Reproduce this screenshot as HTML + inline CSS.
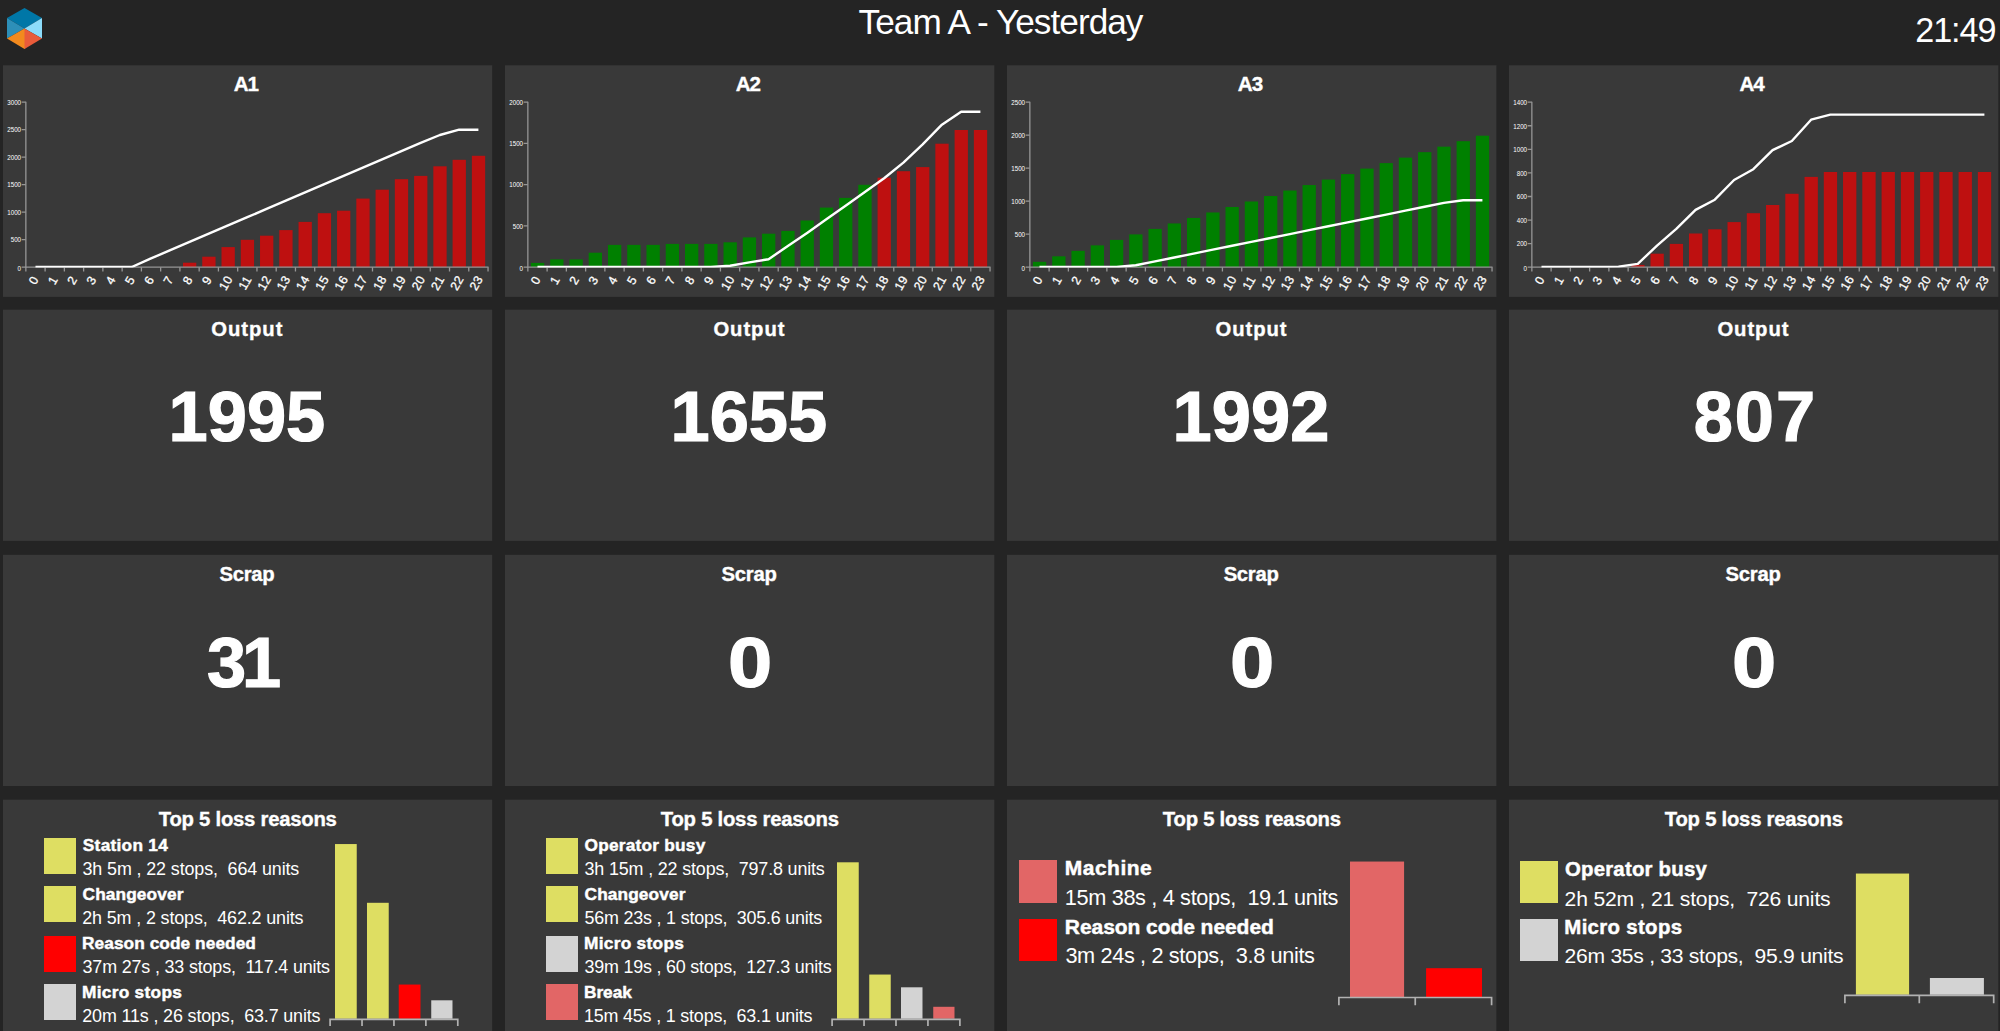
<!DOCTYPE html>
<html lang="en"><head><meta charset="utf-8"><title>Team A - Yesterday</title>
<style>
html,body{margin:0;padding:0}
body{width:2000px;height:1031px;overflow:hidden;background:#242424;position:relative;font-family:"Liberation Sans",Arial,sans-serif;color:#fff}
#bg,#hdr{position:absolute;left:0;top:0}
#hdr{width:2000px;height:65px}
.panel{position:absolute}
.t{position:absolute;white-space:pre;line-height:1;display:block}
.big{font-weight:700;-webkit-text-stroke:1.2px #fff}
.ttl{font-weight:700;-webkit-text-stroke:.35px #fff}
.lb{font-weight:700;-webkit-text-stroke:.45px #fff}
.chart{position:absolute;left:0;top:0;overflow:visible}
.sq{position:absolute}
svg text{font-family:"Liberation Sans",Arial,sans-serif;fill:#fff}
.yl text{font-size:6.9px;text-anchor:end}
.xl text{font-size:12.3px;text-anchor:middle;letter-spacing:.4px;stroke:#fff;stroke-width:.3px}
</style></head><body>

<svg id="bg" width="2000" height="1031" viewBox="0 0 2000 1031">
<rect x="3" y="65.3" width="489.2" height="231.6" fill="#393939"/>
<rect x="505" y="65.3" width="489.3" height="231.6" fill="#393939"/>
<rect x="1007" y="65.3" width="489.4" height="231.6" fill="#393939"/>
<rect x="1509" y="65.3" width="489.3" height="231.6" fill="#393939"/>
<rect x="3" y="309.7" width="489.2" height="231.2" fill="#393939"/>
<rect x="505" y="309.7" width="489.3" height="231.2" fill="#393939"/>
<rect x="1007" y="309.7" width="489.4" height="231.2" fill="#393939"/>
<rect x="1509" y="309.7" width="489.3" height="231.2" fill="#393939"/>
<rect x="3" y="554.8" width="489.2" height="231.2" fill="#393939"/>
<rect x="505" y="554.8" width="489.3" height="231.2" fill="#393939"/>
<rect x="1007" y="554.8" width="489.4" height="231.2" fill="#393939"/>
<rect x="1509" y="554.8" width="489.3" height="231.2" fill="#393939"/>
<rect x="3" y="799.7" width="489.2" height="231.8" fill="#393939"/>
<rect x="505" y="799.7" width="489.3" height="231.8" fill="#393939"/>
<rect x="1007" y="799.7" width="489.4" height="231.8" fill="#393939"/>
<rect x="1509" y="799.7" width="489.3" height="231.8" fill="#393939"/>
</svg>
<div id="hdr">
<svg class="chart" width="60" height="60" viewBox="0 0 60 60">
<polygon points="24.5,8 42,18 24.5,28.5 7,18" fill="#0077a7"/>
<polygon points="7,18 24.5,28.5 7,38.5" fill="#2d8fb8"/>
<polygon points="42,18 42,38.5 24.5,28.5" fill="#8cdcfa"/>
<polygon points="24.5,28.5 7,38.5 24.5,49 25.2,48.6 25.2,28.9" fill="#f28a1e"/>
<polygon points="24.5,28.5 24.5,49 42,38.5" fill="#e95b3a"/>
</svg>
<div class="t" id="title" style="left:858.55px;top:3.9px;font-size:35.2px;letter-spacing:-0.960px">Team A - Yesterday</div>
<div class="t" id="clock" style="left:1915.2px;top:13.1px;font-size:34.2px;letter-spacing:-1.049px">21:49</div>
</div>
<div class="panel" style="left:3px;top:65.3px;width:489.2px;height:231.6px">
<div class="t ttl" id="n0" style="left:230.68px;top:8.41px;font-size:20.6px;letter-spacing:-0.999px">A1</div>
<svg class="chart" width="489.2" height="231.6" viewBox="3 65.3 489.2 231.6">
<rect x="183" y="263" width="13.3" height="4.5" fill="#be1010"/>
<rect x="202.25" y="257" width="13.3" height="10.5" fill="#be1010"/>
<rect x="221.51" y="247.4" width="13.3" height="20.1" fill="#be1010"/>
<rect x="240.77" y="240.1" width="13.3" height="27.4" fill="#be1010"/>
<rect x="260.03" y="236" width="13.3" height="31.5" fill="#be1010"/>
<rect x="279.29" y="230.4" width="13.3" height="37.1" fill="#be1010"/>
<rect x="298.55" y="222.2" width="13.3" height="45.3" fill="#be1010"/>
<rect x="317.8" y="213.5" width="13.3" height="54" fill="#be1010"/>
<rect x="337.06" y="211" width="13.3" height="56.5" fill="#be1010"/>
<rect x="356.32" y="198.9" width="13.3" height="68.6" fill="#be1010"/>
<rect x="375.58" y="190" width="13.3" height="77.5" fill="#be1010"/>
<rect x="394.84" y="179.5" width="13.3" height="88" fill="#be1010"/>
<rect x="414.1" y="176.2" width="13.3" height="91.3" fill="#be1010"/>
<rect x="433.35" y="166.6" width="13.3" height="100.9" fill="#be1010"/>
<rect x="452.61" y="160.1" width="13.3" height="107.4" fill="#be1010"/>
<rect x="471.87" y="156.1" width="13.3" height="111.4" fill="#be1010"/>
<g stroke="#969696" stroke-width="1.3" fill="none">
<path d="M25.85 102V268"/>
<path d="M25.35 267.5H488.55"/>
<path d="M25.85 267.5v4.3M45.11 267.5v4.3M64.37 267.5v4.3M83.62 267.5v4.3M102.88 267.5v4.3M122.14 267.5v4.3M141.4 267.5v4.3M160.66 267.5v4.3M179.92 267.5v4.3M199.17 267.5v4.3M218.43 267.5v4.3M237.69 267.5v4.3M256.95 267.5v4.3M276.21 267.5v4.3M295.47 267.5v4.3M314.73 267.5v4.3M333.98 267.5v4.3M353.24 267.5v4.3M372.5 267.5v4.3M391.76 267.5v4.3M411.02 267.5v4.3M430.28 267.5v4.3M449.53 267.5v4.3M468.79 267.5v4.3M488.05 267.5v4.3"/>
<path d="M21.65 267.5h4.2M21.65 240h4.2M21.65 212.5h4.2M21.65 185h4.2M21.65 157.5h4.2M21.65 130h4.2M21.65 102.5h4.2"/>
</g>
<g class="yl">
<text x="21.05" y="270.9" textLength="3.45" lengthAdjust="spacingAndGlyphs">0</text>
<text x="21.05" y="242.75" textLength="10.35" lengthAdjust="spacingAndGlyphs">500</text>
<text x="21.05" y="215.25" textLength="13.8" lengthAdjust="spacingAndGlyphs">1000</text>
<text x="21.05" y="187.75" textLength="13.8" lengthAdjust="spacingAndGlyphs">1500</text>
<text x="21.05" y="160.25" textLength="13.8" lengthAdjust="spacingAndGlyphs">2000</text>
<text x="21.05" y="132.75" textLength="13.8" lengthAdjust="spacingAndGlyphs">2500</text>
<text x="21.05" y="105.25" textLength="13.8" lengthAdjust="spacingAndGlyphs">3000</text>
</g>
<g class="xl">
<text transform="translate(33.58 280.4) rotate(-60)" y="4.35">0</text>
<text transform="translate(52.84 280.4) rotate(-60)" y="4.35">1</text>
<text transform="translate(72.1 280.4) rotate(-60)" y="4.35">2</text>
<text transform="translate(91.35 280.4) rotate(-60)" y="4.35">3</text>
<text transform="translate(110.61 280.4) rotate(-60)" y="4.35">4</text>
<text transform="translate(129.87 280.4) rotate(-60)" y="4.35">5</text>
<text transform="translate(149.13 280.4) rotate(-60)" y="4.35">6</text>
<text transform="translate(168.39 280.4) rotate(-60)" y="4.35">7</text>
<text transform="translate(187.65 280.4) rotate(-60)" y="4.35">8</text>
<text transform="translate(206.9 280.4) rotate(-60)" y="4.35">9</text>
<text transform="translate(225.66 283.1) rotate(-60)" y="4.35">10</text>
<text transform="translate(244.92 283.1) rotate(-60)" y="4.35">11</text>
<text transform="translate(264.18 283.1) rotate(-60)" y="4.35">12</text>
<text transform="translate(283.44 283.1) rotate(-60)" y="4.35">13</text>
<text transform="translate(302.7 283.1) rotate(-60)" y="4.35">14</text>
<text transform="translate(321.95 283.1) rotate(-60)" y="4.35">15</text>
<text transform="translate(341.21 283.1) rotate(-60)" y="4.35">16</text>
<text transform="translate(360.47 283.1) rotate(-60)" y="4.35">17</text>
<text transform="translate(379.73 283.1) rotate(-60)" y="4.35">18</text>
<text transform="translate(398.99 283.1) rotate(-60)" y="4.35">19</text>
<text transform="translate(418.25 283.1) rotate(-60)" y="4.35">20</text>
<text transform="translate(437.5 283.1) rotate(-60)" y="4.35">21</text>
<text transform="translate(456.76 283.1) rotate(-60)" y="4.35">22</text>
<text transform="translate(476.02 283.1) rotate(-60)" y="4.35">23</text>
</g>
<clipPath id="cp0"><rect x="3" y="65.3" width="489.2" height="202.6"/></clipPath>
<polyline clip-path="url(#cp0)" points="35.48,267.3 54.74,267.3 74,267.3 93.25,267.3 112.51,267.3 131.77,267.3 151.03,258.75 170.29,250.5 189.55,242.25 208.8,234 228.06,225.75 247.32,217.5 266.58,209.25 285.84,201 305.1,192.75 324.35,184.5 343.61,176.25 362.87,168 382.13,159.75 401.39,151.5 420.65,143.25 439.9,135.3 459.16,130 478.42,130" fill="none" stroke="#fff" stroke-width="2.4" stroke-linejoin="round"/>
</svg>
</div>
<div class="panel" style="left:505px;top:65.3px;width:489.3px;height:231.6px">
<div class="t ttl" id="n1" style="left:230.73px;top:8.41px;font-size:20.6px;letter-spacing:-0.999px">A2</div>
<svg class="chart" width="489.3" height="231.6" viewBox="505 65.3 489.3 231.6">
<rect x="530.93" y="263.2" width="13.3" height="4.3" fill="#008000"/>
<rect x="550.19" y="259.7" width="13.3" height="7.8" fill="#008000"/>
<rect x="569.45" y="259.7" width="13.3" height="7.8" fill="#008000"/>
<rect x="588.7" y="253" width="13.3" height="14.5" fill="#008000"/>
<rect x="607.96" y="245.2" width="13.3" height="22.3" fill="#008000"/>
<rect x="627.22" y="245.2" width="13.3" height="22.3" fill="#008000"/>
<rect x="646.48" y="245.2" width="13.3" height="22.3" fill="#008000"/>
<rect x="665.74" y="244.2" width="13.3" height="23.3" fill="#008000"/>
<rect x="685" y="244.2" width="13.3" height="23.3" fill="#008000"/>
<rect x="704.25" y="244.2" width="13.3" height="23.3" fill="#008000"/>
<rect x="723.51" y="242.6" width="13.3" height="24.9" fill="#008000"/>
<rect x="742.77" y="237.7" width="13.3" height="29.8" fill="#008000"/>
<rect x="762.03" y="234" width="13.3" height="33.5" fill="#008000"/>
<rect x="781.29" y="231.2" width="13.3" height="36.3" fill="#008000"/>
<rect x="800.55" y="220.8" width="13.3" height="46.7" fill="#008000"/>
<rect x="819.8" y="207.9" width="13.3" height="59.6" fill="#008000"/>
<rect x="839.06" y="198.2" width="13.3" height="69.3" fill="#008000"/>
<rect x="858.32" y="185.1" width="13.3" height="82.4" fill="#008000"/>
<rect x="877.58" y="178" width="13.3" height="89.5" fill="#be1010"/>
<rect x="896.84" y="171.5" width="13.3" height="96" fill="#be1010"/>
<rect x="916.1" y="167.4" width="13.3" height="100.1" fill="#be1010"/>
<rect x="935.35" y="144" width="13.3" height="123.5" fill="#be1010"/>
<rect x="954.61" y="130.3" width="13.3" height="137.2" fill="#be1010"/>
<rect x="973.87" y="130.3" width="13.3" height="137.2" fill="#be1010"/>
<g stroke="#969696" stroke-width="1.3" fill="none">
<path d="M527.85 102V268"/>
<path d="M527.35 267.5H990.55"/>
<path d="M527.85 267.5v4.3M547.11 267.5v4.3M566.37 267.5v4.3M585.62 267.5v4.3M604.88 267.5v4.3M624.14 267.5v4.3M643.4 267.5v4.3M662.66 267.5v4.3M681.92 267.5v4.3M701.17 267.5v4.3M720.43 267.5v4.3M739.69 267.5v4.3M758.95 267.5v4.3M778.21 267.5v4.3M797.47 267.5v4.3M816.73 267.5v4.3M835.98 267.5v4.3M855.24 267.5v4.3M874.5 267.5v4.3M893.76 267.5v4.3M913.02 267.5v4.3M932.28 267.5v4.3M951.53 267.5v4.3M970.79 267.5v4.3M990.05 267.5v4.3"/>
<path d="M523.65 267.5h4.2M523.65 226.25h4.2M523.65 185h4.2M523.65 143.75h4.2M523.65 102.5h4.2"/>
</g>
<g class="yl">
<text x="523.05" y="270.9" textLength="3.45" lengthAdjust="spacingAndGlyphs">0</text>
<text x="523.05" y="229" textLength="10.35" lengthAdjust="spacingAndGlyphs">500</text>
<text x="523.05" y="187.75" textLength="13.8" lengthAdjust="spacingAndGlyphs">1000</text>
<text x="523.05" y="146.5" textLength="13.8" lengthAdjust="spacingAndGlyphs">1500</text>
<text x="523.05" y="105.25" textLength="13.8" lengthAdjust="spacingAndGlyphs">2000</text>
</g>
<g class="xl">
<text transform="translate(535.58 280.4) rotate(-60)" y="4.35">0</text>
<text transform="translate(554.84 280.4) rotate(-60)" y="4.35">1</text>
<text transform="translate(574.1 280.4) rotate(-60)" y="4.35">2</text>
<text transform="translate(593.35 280.4) rotate(-60)" y="4.35">3</text>
<text transform="translate(612.61 280.4) rotate(-60)" y="4.35">4</text>
<text transform="translate(631.87 280.4) rotate(-60)" y="4.35">5</text>
<text transform="translate(651.13 280.4) rotate(-60)" y="4.35">6</text>
<text transform="translate(670.39 280.4) rotate(-60)" y="4.35">7</text>
<text transform="translate(689.65 280.4) rotate(-60)" y="4.35">8</text>
<text transform="translate(708.9 280.4) rotate(-60)" y="4.35">9</text>
<text transform="translate(727.66 283.1) rotate(-60)" y="4.35">10</text>
<text transform="translate(746.92 283.1) rotate(-60)" y="4.35">11</text>
<text transform="translate(766.18 283.1) rotate(-60)" y="4.35">12</text>
<text transform="translate(785.44 283.1) rotate(-60)" y="4.35">13</text>
<text transform="translate(804.7 283.1) rotate(-60)" y="4.35">14</text>
<text transform="translate(823.95 283.1) rotate(-60)" y="4.35">15</text>
<text transform="translate(843.21 283.1) rotate(-60)" y="4.35">16</text>
<text transform="translate(862.47 283.1) rotate(-60)" y="4.35">17</text>
<text transform="translate(881.73 283.1) rotate(-60)" y="4.35">18</text>
<text transform="translate(900.99 283.1) rotate(-60)" y="4.35">19</text>
<text transform="translate(920.25 283.1) rotate(-60)" y="4.35">20</text>
<text transform="translate(939.5 283.1) rotate(-60)" y="4.35">21</text>
<text transform="translate(958.76 283.1) rotate(-60)" y="4.35">22</text>
<text transform="translate(978.02 283.1) rotate(-60)" y="4.35">23</text>
</g>
<clipPath id="cp1"><rect x="505" y="65.3" width="489.3" height="202.6"/></clipPath>
<polyline clip-path="url(#cp1)" points="537.48,267.3 556.74,267.3 576,267.3 595.25,267.3 614.51,267.3 633.77,267.3 653.03,267.3 672.29,267.3 691.55,267.3 710.8,267.3 730.06,266 749.32,262.7 768.58,259.5 787.84,246.4 807.1,233.2 826.35,219.5 845.61,206.1 864.87,192.4 884.13,178.6 903.39,162.9 922.65,144.6 941.9,125 961.16,112 980.42,112" fill="none" stroke="#fff" stroke-width="2.4" stroke-linejoin="round"/>
</svg>
</div>
<div class="panel" style="left:1007px;top:65.3px;width:489.4px;height:231.6px">
<div class="t ttl" id="n2" style="left:230.78px;top:8.41px;font-size:20.6px;letter-spacing:-0.999px">A3</div>
<svg class="chart" width="489.4" height="231.6" viewBox="1007 65.3 489.4 231.6">
<rect x="1032.93" y="262.12" width="13.3" height="5.38" fill="#008000"/>
<rect x="1052.19" y="256.63" width="13.3" height="10.87" fill="#008000"/>
<rect x="1071.45" y="251.15" width="13.3" height="16.35" fill="#008000"/>
<rect x="1090.7" y="245.67" width="13.3" height="21.83" fill="#008000"/>
<rect x="1109.96" y="240.19" width="13.3" height="27.31" fill="#008000"/>
<rect x="1129.22" y="234.7" width="13.3" height="32.8" fill="#008000"/>
<rect x="1148.48" y="229.22" width="13.3" height="38.28" fill="#008000"/>
<rect x="1167.74" y="223.74" width="13.3" height="43.76" fill="#008000"/>
<rect x="1187" y="218.25" width="13.3" height="49.25" fill="#008000"/>
<rect x="1206.25" y="212.77" width="13.3" height="54.73" fill="#008000"/>
<rect x="1225.51" y="207.29" width="13.3" height="60.21" fill="#008000"/>
<rect x="1244.77" y="201.8" width="13.3" height="65.7" fill="#008000"/>
<rect x="1264.03" y="196.32" width="13.3" height="71.18" fill="#008000"/>
<rect x="1283.29" y="190.84" width="13.3" height="76.66" fill="#008000"/>
<rect x="1302.55" y="185.36" width="13.3" height="82.14" fill="#008000"/>
<rect x="1321.8" y="179.87" width="13.3" height="87.63" fill="#008000"/>
<rect x="1341.06" y="174.39" width="13.3" height="93.11" fill="#008000"/>
<rect x="1360.32" y="168.91" width="13.3" height="98.59" fill="#008000"/>
<rect x="1379.58" y="163.42" width="13.3" height="104.08" fill="#008000"/>
<rect x="1398.84" y="157.94" width="13.3" height="109.56" fill="#008000"/>
<rect x="1418.1" y="152.46" width="13.3" height="115.04" fill="#008000"/>
<rect x="1437.35" y="146.97" width="13.3" height="120.53" fill="#008000"/>
<rect x="1456.61" y="141.49" width="13.3" height="126.01" fill="#008000"/>
<rect x="1475.87" y="136.01" width="13.3" height="131.49" fill="#008000"/>
<g stroke="#969696" stroke-width="1.3" fill="none">
<path d="M1029.85 102V268"/>
<path d="M1029.35 267.5H1492.55"/>
<path d="M1029.85 267.5v4.3M1049.11 267.5v4.3M1068.37 267.5v4.3M1087.62 267.5v4.3M1106.88 267.5v4.3M1126.14 267.5v4.3M1145.4 267.5v4.3M1164.66 267.5v4.3M1183.92 267.5v4.3M1203.17 267.5v4.3M1222.43 267.5v4.3M1241.69 267.5v4.3M1260.95 267.5v4.3M1280.21 267.5v4.3M1299.47 267.5v4.3M1318.72 267.5v4.3M1337.98 267.5v4.3M1357.24 267.5v4.3M1376.5 267.5v4.3M1395.76 267.5v4.3M1415.02 267.5v4.3M1434.27 267.5v4.3M1453.53 267.5v4.3M1472.79 267.5v4.3M1492.05 267.5v4.3"/>
<path d="M1025.65 267.5h4.2M1025.65 234.5h4.2M1025.65 201.5h4.2M1025.65 168.5h4.2M1025.65 135.5h4.2M1025.65 102.5h4.2"/>
</g>
<g class="yl">
<text x="1025.05" y="270.9" textLength="3.45" lengthAdjust="spacingAndGlyphs">0</text>
<text x="1025.05" y="237.25" textLength="10.35" lengthAdjust="spacingAndGlyphs">500</text>
<text x="1025.05" y="204.25" textLength="13.8" lengthAdjust="spacingAndGlyphs">1000</text>
<text x="1025.05" y="171.25" textLength="13.8" lengthAdjust="spacingAndGlyphs">1500</text>
<text x="1025.05" y="138.25" textLength="13.8" lengthAdjust="spacingAndGlyphs">2000</text>
<text x="1025.05" y="105.25" textLength="13.8" lengthAdjust="spacingAndGlyphs">2500</text>
</g>
<g class="xl">
<text transform="translate(1037.58 280.4) rotate(-60)" y="4.35">0</text>
<text transform="translate(1056.84 280.4) rotate(-60)" y="4.35">1</text>
<text transform="translate(1076.1 280.4) rotate(-60)" y="4.35">2</text>
<text transform="translate(1095.35 280.4) rotate(-60)" y="4.35">3</text>
<text transform="translate(1114.61 280.4) rotate(-60)" y="4.35">4</text>
<text transform="translate(1133.87 280.4) rotate(-60)" y="4.35">5</text>
<text transform="translate(1153.13 280.4) rotate(-60)" y="4.35">6</text>
<text transform="translate(1172.39 280.4) rotate(-60)" y="4.35">7</text>
<text transform="translate(1191.65 280.4) rotate(-60)" y="4.35">8</text>
<text transform="translate(1210.9 280.4) rotate(-60)" y="4.35">9</text>
<text transform="translate(1229.66 283.1) rotate(-60)" y="4.35">10</text>
<text transform="translate(1248.92 283.1) rotate(-60)" y="4.35">11</text>
<text transform="translate(1268.18 283.1) rotate(-60)" y="4.35">12</text>
<text transform="translate(1287.44 283.1) rotate(-60)" y="4.35">13</text>
<text transform="translate(1306.7 283.1) rotate(-60)" y="4.35">14</text>
<text transform="translate(1325.95 283.1) rotate(-60)" y="4.35">15</text>
<text transform="translate(1345.21 283.1) rotate(-60)" y="4.35">16</text>
<text transform="translate(1364.47 283.1) rotate(-60)" y="4.35">17</text>
<text transform="translate(1383.73 283.1) rotate(-60)" y="4.35">18</text>
<text transform="translate(1402.99 283.1) rotate(-60)" y="4.35">19</text>
<text transform="translate(1422.25 283.1) rotate(-60)" y="4.35">20</text>
<text transform="translate(1441.5 283.1) rotate(-60)" y="4.35">21</text>
<text transform="translate(1460.76 283.1) rotate(-60)" y="4.35">22</text>
<text transform="translate(1480.02 283.1) rotate(-60)" y="4.35">23</text>
</g>
<clipPath id="cp2"><rect x="1007" y="65.3" width="489.4" height="202.6"/></clipPath>
<polyline clip-path="url(#cp2)" points="1039.48,267.3 1058.74,267.3 1078,267.3 1097.25,267.3 1116.51,267.3 1135.77,265.6 1155.03,261.7 1174.29,257.8 1193.55,253.9 1212.8,250 1232.06,246.1 1251.32,242.2 1270.58,238.3 1289.84,234.4 1309.1,230.5 1328.35,226.6 1347.61,222.7 1366.87,218.8 1386.13,214.9 1405.39,211 1424.65,207.1 1443.9,203.2 1463.16,200.6 1482.42,200.6" fill="none" stroke="#fff" stroke-width="2.4" stroke-linejoin="round"/>
</svg>
</div>
<div class="panel" style="left:1509px;top:65.3px;width:489.3px;height:231.6px">
<div class="t ttl" id="n3" style="left:230.41px;top:8.41px;font-size:20.6px;letter-spacing:-0.999px">A4</div>
<svg class="chart" width="489.3" height="231.6" viewBox="1509 65.3 489.3 231.6">
<rect x="1631.22" y="265.2" width="13.3" height="2.3" fill="#be1010"/>
<rect x="1650.48" y="254" width="13.3" height="13.5" fill="#be1010"/>
<rect x="1669.74" y="244.2" width="13.3" height="23.3" fill="#be1010"/>
<rect x="1689" y="233.8" width="13.3" height="33.7" fill="#be1010"/>
<rect x="1708.25" y="229.6" width="13.3" height="37.9" fill="#be1010"/>
<rect x="1727.51" y="222.4" width="13.3" height="45.1" fill="#be1010"/>
<rect x="1746.77" y="213.5" width="13.3" height="54" fill="#be1010"/>
<rect x="1766.03" y="205.3" width="13.3" height="62.2" fill="#be1010"/>
<rect x="1785.29" y="194.1" width="13.3" height="73.4" fill="#be1010"/>
<rect x="1804.55" y="177.2" width="13.3" height="90.3" fill="#be1010"/>
<rect x="1823.8" y="172.3" width="13.3" height="95.2" fill="#be1010"/>
<rect x="1843.06" y="172.3" width="13.3" height="95.2" fill="#be1010"/>
<rect x="1862.32" y="172.3" width="13.3" height="95.2" fill="#be1010"/>
<rect x="1881.58" y="172.3" width="13.3" height="95.2" fill="#be1010"/>
<rect x="1900.84" y="172.3" width="13.3" height="95.2" fill="#be1010"/>
<rect x="1920.1" y="172.3" width="13.3" height="95.2" fill="#be1010"/>
<rect x="1939.35" y="172.3" width="13.3" height="95.2" fill="#be1010"/>
<rect x="1958.61" y="172.3" width="13.3" height="95.2" fill="#be1010"/>
<rect x="1977.87" y="172.3" width="13.3" height="95.2" fill="#be1010"/>
<g stroke="#969696" stroke-width="1.3" fill="none">
<path d="M1531.85 102V268"/>
<path d="M1531.35 267.5H1994.55"/>
<path d="M1531.85 267.5v4.3M1551.11 267.5v4.3M1570.37 267.5v4.3M1589.62 267.5v4.3M1608.88 267.5v4.3M1628.14 267.5v4.3M1647.4 267.5v4.3M1666.66 267.5v4.3M1685.92 267.5v4.3M1705.17 267.5v4.3M1724.43 267.5v4.3M1743.69 267.5v4.3M1762.95 267.5v4.3M1782.21 267.5v4.3M1801.47 267.5v4.3M1820.72 267.5v4.3M1839.98 267.5v4.3M1859.24 267.5v4.3M1878.5 267.5v4.3M1897.76 267.5v4.3M1917.02 267.5v4.3M1936.27 267.5v4.3M1955.53 267.5v4.3M1974.79 267.5v4.3M1994.05 267.5v4.3"/>
<path d="M1527.65 267.5h4.2M1527.65 243.93h4.2M1527.65 220.36h4.2M1527.65 196.79h4.2M1527.65 173.21h4.2M1527.65 149.64h4.2M1527.65 126.07h4.2M1527.65 102.5h4.2"/>
</g>
<g class="yl">
<text x="1527.05" y="270.9" textLength="3.45" lengthAdjust="spacingAndGlyphs">0</text>
<text x="1527.05" y="246.68" textLength="10.35" lengthAdjust="spacingAndGlyphs">200</text>
<text x="1527.05" y="223.11" textLength="10.35" lengthAdjust="spacingAndGlyphs">400</text>
<text x="1527.05" y="199.54" textLength="10.35" lengthAdjust="spacingAndGlyphs">600</text>
<text x="1527.05" y="175.96" textLength="10.35" lengthAdjust="spacingAndGlyphs">800</text>
<text x="1527.05" y="152.39" textLength="13.8" lengthAdjust="spacingAndGlyphs">1000</text>
<text x="1527.05" y="128.82" textLength="13.8" lengthAdjust="spacingAndGlyphs">1200</text>
<text x="1527.05" y="105.25" textLength="13.8" lengthAdjust="spacingAndGlyphs">1400</text>
</g>
<g class="xl">
<text transform="translate(1539.58 280.4) rotate(-60)" y="4.35">0</text>
<text transform="translate(1558.84 280.4) rotate(-60)" y="4.35">1</text>
<text transform="translate(1578.1 280.4) rotate(-60)" y="4.35">2</text>
<text transform="translate(1597.35 280.4) rotate(-60)" y="4.35">3</text>
<text transform="translate(1616.61 280.4) rotate(-60)" y="4.35">4</text>
<text transform="translate(1635.87 280.4) rotate(-60)" y="4.35">5</text>
<text transform="translate(1655.13 280.4) rotate(-60)" y="4.35">6</text>
<text transform="translate(1674.39 280.4) rotate(-60)" y="4.35">7</text>
<text transform="translate(1693.65 280.4) rotate(-60)" y="4.35">8</text>
<text transform="translate(1712.9 280.4) rotate(-60)" y="4.35">9</text>
<text transform="translate(1731.66 283.1) rotate(-60)" y="4.35">10</text>
<text transform="translate(1750.92 283.1) rotate(-60)" y="4.35">11</text>
<text transform="translate(1770.18 283.1) rotate(-60)" y="4.35">12</text>
<text transform="translate(1789.44 283.1) rotate(-60)" y="4.35">13</text>
<text transform="translate(1808.7 283.1) rotate(-60)" y="4.35">14</text>
<text transform="translate(1827.95 283.1) rotate(-60)" y="4.35">15</text>
<text transform="translate(1847.21 283.1) rotate(-60)" y="4.35">16</text>
<text transform="translate(1866.47 283.1) rotate(-60)" y="4.35">17</text>
<text transform="translate(1885.73 283.1) rotate(-60)" y="4.35">18</text>
<text transform="translate(1904.99 283.1) rotate(-60)" y="4.35">19</text>
<text transform="translate(1924.25 283.1) rotate(-60)" y="4.35">20</text>
<text transform="translate(1943.5 283.1) rotate(-60)" y="4.35">21</text>
<text transform="translate(1962.76 283.1) rotate(-60)" y="4.35">22</text>
<text transform="translate(1982.02 283.1) rotate(-60)" y="4.35">23</text>
</g>
<clipPath id="cp3"><rect x="1509" y="65.3" width="489.3" height="202.6"/></clipPath>
<polyline clip-path="url(#cp3)" points="1541.48,267.3 1560.74,267.3 1580,267.3 1599.25,267.3 1618.51,266.9 1637.77,264.2 1657.03,245.9 1676.29,229.2 1695.55,210.2 1714.8,200 1734.06,180.3 1753.32,169.5 1772.58,150.5 1791.84,141.3 1811.1,120 1830.35,114.9 1849.61,114.9 1868.87,114.9 1888.13,114.9 1907.39,114.9 1926.65,114.9 1945.9,114.9 1965.16,114.9 1984.42,114.9" fill="none" stroke="#fff" stroke-width="2.4" stroke-linejoin="round"/>
</svg>
</div>
<div class="panel" style="left:3px;top:309.7px;width:489.2px;height:231.2px">
<div class="t ttl" id="ol0" style="left:208.37px;top:9.01px;font-size:20.3px;letter-spacing:0.925px">Output</div>
<div class="t big" id="ov0" style="left:165.6px;top:72.62px;font-size:70.4px;letter-spacing:0.014px">1995</div>
</div>
<div class="panel" style="left:505px;top:309.7px;width:489.3px;height:231.2px">
<div class="t ttl" id="ol1" style="left:208.42px;top:9.01px;font-size:20.3px;letter-spacing:0.925px">Output</div>
<div class="t big" id="ov1" style="left:165.6px;top:72.62px;font-size:70.4px;letter-spacing:-0.020px">1655</div>
</div>
<div class="panel" style="left:1007px;top:309.7px;width:489.4px;height:231.2px">
<div class="t ttl" id="ol2" style="left:208.47px;top:9.01px;font-size:20.3px;letter-spacing:0.925px">Output</div>
<div class="t big" id="ov2" style="left:165.5px;top:72.62px;font-size:70.4px;letter-spacing:0.114px">1992</div>
</div>
<div class="panel" style="left:1509px;top:309.7px;width:489.3px;height:231.2px">
<div class="t ttl" id="ol3" style="left:208.42px;top:9.01px;font-size:20.3px;letter-spacing:0.925px">Output</div>
<div class="t big" id="ov3" style="left:184.8px;top:72.62px;font-size:70.4px;letter-spacing:1.897px">807</div>
</div>
<div class="panel" style="left:3px;top:554.8px;width:489.2px;height:231.2px">
<div class="t ttl" id="sl0" style="left:216.53px;top:8.91px;font-size:20.3px;letter-spacing:-0.285px">Scrap</div>
<div class="t big" id="sv0" style="left:203.9px;top:73.41px;font-size:70.4px;letter-spacing:-4.053px">31</div>
</div>
<div class="panel" style="left:505px;top:554.8px;width:489.3px;height:231.2px">
<div class="t ttl" id="sl1" style="left:216.58px;top:8.91px;font-size:20.3px;letter-spacing:-0.285px">Scrap</div>
<div class="t big" id="sv1" style="left:222.5px;top:73.41px;font-size:70.4px;transform:scaleX(1.1300);transform-origin:0 0">0</div>
</div>
<div class="panel" style="left:1007px;top:554.8px;width:489.4px;height:231.2px">
<div class="t ttl" id="sl2" style="left:216.63px;top:8.91px;font-size:20.3px;letter-spacing:-0.285px">Scrap</div>
<div class="t big" id="sv2" style="left:222.5px;top:73.41px;font-size:70.4px;transform:scaleX(1.1300);transform-origin:0 0">0</div>
</div>
<div class="panel" style="left:1509px;top:554.8px;width:489.3px;height:231.2px">
<div class="t ttl" id="sl3" style="left:216.58px;top:8.91px;font-size:20.3px;letter-spacing:-0.285px">Scrap</div>
<div class="t big" id="sv3" style="left:222.5px;top:73.41px;font-size:70.4px;transform:scaleX(1.1300);transform-origin:0 0">0</div>
</div>
<div class="panel" style="left:3px;top:799.7px;width:489.2px;height:231.8px">
<div class="t ttl" id="ll0" style="left:155.75px;top:9.07px;font-size:20.3px;letter-spacing:-0.239px">Top 5 loss reasons</div>
<div class="sq" style="left:40.75px;top:38.3px;width:32px;height:36px;background:#dede62"></div>
<div class="sq" style="left:40.75px;top:86.6px;width:32px;height:36px;background:#dede62"></div>
<div class="sq" style="left:40.75px;top:136.1px;width:32px;height:36px;background:#ff0000"></div>
<div class="sq" style="left:40.75px;top:184.6px;width:32px;height:36px;background:#d3d3d3"></div>
<svg class="chart" width="489.2" height="231.3" viewBox="0 799.7 489.2 231.3">
<rect x="332" y="843.75" width="21.75" height="174.75" fill="#dede62"/>
<rect x="364" y="902.5" width="21.75" height="116" fill="#dede62"/>
<rect x="395.75" y="984.25" width="21.75" height="34.25" fill="#ff0000"/>
<rect x="428.25" y="1000" width="21.25" height="18.5" fill="#d3d3d3"/>
<path d="M326.25 1019H455.65M327.1 1019V1025.6M359.03 1019V1025.6M390.95 1019V1025.6M422.88 1019V1025.6M454.8 1019V1025.6" stroke="#b2b2b2" stroke-width="1.7" fill="none"/>
</svg>
<div class="t lb" id="lb0_0" style="left:79.83px;top:36.93px;font-size:17.3px;letter-spacing:0.265px">Station 14</div>
<div class="t" id="lr0_0" style="left:79.54px;top:60.92px;font-size:17.91px;letter-spacing:-0.119px">3h 5m , 22 stops,  664 units</div>
<div class="t lb" id="lb0_1" style="left:79.56px;top:85.93px;font-size:17.3px;letter-spacing:0.106px">Changeover</div>
<div class="t" id="lr0_1" style="left:79.26px;top:109.92px;font-size:17.91px;letter-spacing:-0.130px">2h 5m , 2 stops,  462.2 units</div>
<div class="t lb" id="lb0_2" style="left:79.02px;top:134.93px;font-size:17.3px;letter-spacing:0.061px">Reason code needed</div>
<div class="t" id="lr0_2" style="left:79.54px;top:158.92px;font-size:17.91px;letter-spacing:-0.160px">37m 27s , 33 stops,  117.4 units</div>
<div class="t lb" id="lb0_3" style="left:79.02px;top:183.93px;font-size:17.3px;letter-spacing:0.285px">Micro stops</div>
<div class="t" id="lr0_3" style="left:79.26px;top:207.93px;font-size:17.91px;letter-spacing:-0.141px">20m 11s , 26 stops,  63.7 units</div>
</div>
<div class="panel" style="left:505px;top:799.7px;width:489.3px;height:231.8px">
<div class="t ttl" id="ll1" style="left:155.8px;top:9.07px;font-size:20.3px;letter-spacing:-0.239px">Top 5 loss reasons</div>
<div class="sq" style="left:40.75px;top:38.3px;width:32px;height:36px;background:#dede62"></div>
<div class="sq" style="left:40.75px;top:86.6px;width:32px;height:36px;background:#dede62"></div>
<div class="sq" style="left:40.75px;top:136.1px;width:32px;height:36px;background:#d3d3d3"></div>
<div class="sq" style="left:40.75px;top:184.6px;width:32px;height:36px;background:#e26666"></div>
<svg class="chart" width="489.3" height="231.3" viewBox="0 799.7 489.3 231.3">
<rect x="332" y="862" width="21.75" height="156.5" fill="#dede62"/>
<rect x="364.25" y="974.25" width="21.5" height="44.25" fill="#dede62"/>
<rect x="396" y="987" width="21.5" height="31.5" fill="#d3d3d3"/>
<rect x="428.25" y="1006.5" width="21.25" height="12" fill="#e26666"/>
<path d="M326.25 1019H455.75M327.1 1019V1025.6M359.05 1019V1025.6M391 1019V1025.6M422.95 1019V1025.6M454.9 1019V1025.6" stroke="#b2b2b2" stroke-width="1.7" fill="none"/>
</svg>
<div class="t lb" id="lb1_0" style="left:79.56px;top:36.93px;font-size:17.3px;letter-spacing:0.215px">Operator busy</div>
<div class="t" id="lr1_0" style="left:79.54px;top:60.92px;font-size:17.91px;letter-spacing:-0.153px">3h 15m , 22 stops,  797.8 units</div>
<div class="t lb" id="lb1_1" style="left:79.56px;top:85.93px;font-size:17.3px;letter-spacing:0.106px">Changeover</div>
<div class="t" id="lr1_1" style="left:79.54px;top:109.92px;font-size:17.91px;letter-spacing:-0.203px">56m 23s , 1 stops,  305.6 units</div>
<div class="t lb" id="lb1_2" style="left:79.02px;top:134.93px;font-size:17.3px;letter-spacing:0.285px">Micro stops</div>
<div class="t" id="lr1_2" style="left:79.54px;top:158.92px;font-size:17.91px;letter-spacing:-0.211px">39m 19s , 60 stops,  127.3 units</div>
<div class="t lb" id="lb1_3" style="left:79.02px;top:183.93px;font-size:17.3px;letter-spacing:-0.055px">Break</div>
<div class="t" id="lr1_3" style="left:78.98px;top:207.93px;font-size:17.91px;letter-spacing:-0.183px">15m 45s , 1 stops,  63.1 units</div>
</div>
<div class="panel" style="left:1007px;top:799.7px;width:489.4px;height:231.8px">
<div class="t ttl" id="ll2" style="left:155.85px;top:9.07px;font-size:20.3px;letter-spacing:-0.239px">Top 5 loss reasons</div>
<div class="sq" style="left:11.8px;top:60.8px;width:38px;height:42.5px;background:#e26666"></div>
<div class="sq" style="left:11.8px;top:119.1px;width:38px;height:42.5px;background:#ff0000"></div>
<svg class="chart" width="489.4" height="231.3" viewBox="0 799.7 489.4 231.3">
<rect x="343" y="861.25" width="54.1" height="135.45" fill="#e26666"/>
<rect x="419.1" y="967.9" width="55.9" height="28.8" fill="#ff0000"/>
<path d="M331.05 997.2H485.45M331.9 997.2V1005M408.25 997.2V1005M484.6 997.2V1005" stroke="#b2b2b2" stroke-width="1.7" fill="none"/>
</svg>
<div class="t lb" id="lb2_0" style="left:57.79px;top:57.71px;font-size:21px;letter-spacing:0.494px">Machine</div>
<div class="t" id="lr2_0" style="left:57.74px;top:87.13px;font-size:21.73px;letter-spacing:-0.344px">15m 38s , 4 stops,  19.1 units</div>
<div class="t lb" id="lb2_1" style="left:57.79px;top:116.21px;font-size:21px;letter-spacing:-0.059px">Reason code needed</div>
<div class="t" id="lr2_1" style="left:58.42px;top:145.52px;font-size:21.73px;letter-spacing:-0.370px">3m 24s , 2 stops,  3.8 units</div>
</div>
<div class="panel" style="left:1509px;top:799.7px;width:489.3px;height:231.8px">
<div class="t ttl" id="ll3" style="left:155.8px;top:9.07px;font-size:20.3px;letter-spacing:-0.239px">Top 5 loss reasons</div>
<div class="sq" style="left:11px;top:61.5px;width:37.8px;height:41.8px;background:#dede62"></div>
<div class="sq" style="left:11px;top:119.1px;width:37.8px;height:41.8px;background:#d3d3d3"></div>
<svg class="chart" width="489.3" height="231.3" viewBox="0 799.7 489.3 231.3">
<rect x="346.9" y="873.25" width="53.2" height="121.25" fill="#dede62"/>
<rect x="420.9" y="977.7" width="54" height="16.8" fill="#d3d3d3"/>
<path d="M335.05 995H485.55M335.9 995V1002.9M410.3 995V1002.9M484.7 995V1002.9" stroke="#b2b2b2" stroke-width="1.7" fill="none"/>
</svg>
<div class="t lb" id="lb3_0" style="left:55.96px;top:59.72px;font-size:20.4px;letter-spacing:0.206px">Operator busy</div>
<div class="t" id="lr3_0" style="left:55.61px;top:88.12px;font-size:21.11px;letter-spacing:-0.181px">2h 52m , 21 stops,  726 units</div>
<div class="t lb" id="lb3_1" style="left:55.32px;top:117.33px;font-size:20.4px;letter-spacing:0.327px">Micro stops</div>
<div class="t" id="lr3_1" style="left:55.61px;top:145.32px;font-size:21.11px;letter-spacing:-0.284px">26m 35s , 33 stops,  95.9 units</div>
</div>
</body></html>
